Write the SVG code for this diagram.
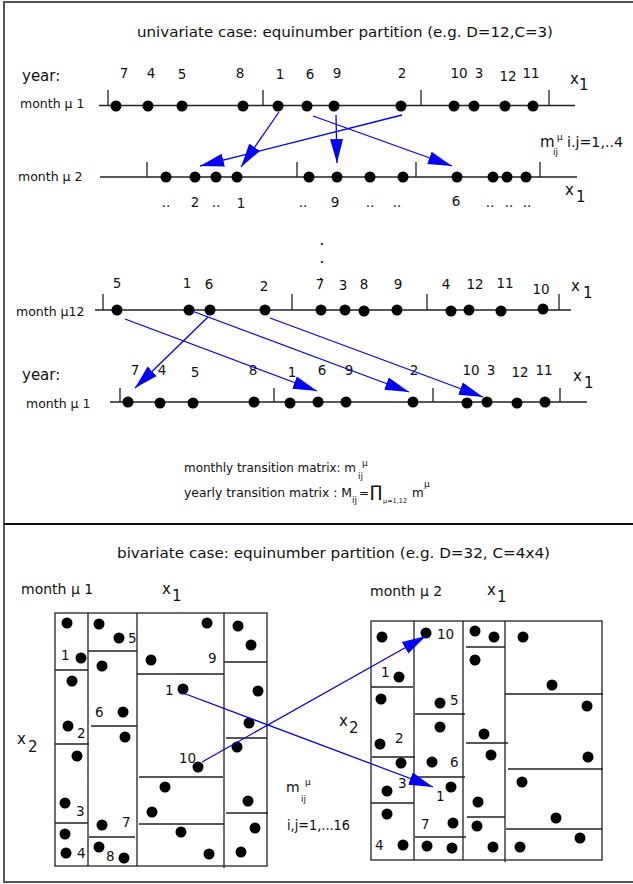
<svg xmlns="http://www.w3.org/2000/svg" width="633" height="884" viewBox="0 0 633 884">
<defs>
<marker id="ah" markerUnits="userSpaceOnUse" markerWidth="25" markerHeight="14" refX="24" refY="7" orient="auto"><path d="M0,0.5 L24,7 L0,13.5 z" fill="#0000ff"/></marker>
</defs>
<style>
text{font-family:"DejaVu Sans","Liberation Sans",sans-serif;fill:#111}
.t{font-size:13.5px}
.n{font-size:13.5px;text-anchor:middle}
.lbl{font-size:12.5px}
.yr{font-size:15px}
.x{font-size:15px}
.s{font-size:9px}
.f{font-size:12px}
.ax{stroke:#222;stroke-width:1.3;fill:none}
.g{stroke:#222;stroke-width:1.3;fill:none}
circle{fill:#000}
.ar{stroke:#0000ff;stroke-width:1.3;fill:none;marker-end:url(#ah)}
</style>
<rect x="0" y="0" width="633" height="884" fill="#fff"/>
<rect x="4" y="2" width="640" height="880" fill="none" stroke="#555" stroke-width="2"/>
<line x1="4" y1="524" x2="633" y2="524" stroke="#111" stroke-width="2"/>

<g id="univariate-title">
<text class="t" x="137" y="37" textLength="416" lengthAdjust="spacingAndGlyphs">univariate case: equinumber partition (e.g. D=12,C=3)</text>
</g>

<g id="row1-month1">
<text class="yr" x="22" y="81">year:</text>
<text class="lbl" x="20" y="108">month μ 1</text>
<path class="ax" d="M99,105.5 H575 M108,90 V105.5 M263,90 V105.5 M421,90 V105.5 M549,90 V105.5"/>
<circle cx="116" cy="106" r="5.5"/><circle cx="148" cy="106" r="5.5"/><circle cx="182" cy="106" r="5.5"/><circle cx="243" cy="106" r="5.5"/><circle cx="278" cy="106" r="5.5"/><circle cx="307" cy="106" r="5.5"/><circle cx="334" cy="106" r="5.5"/><circle cx="401" cy="106" r="5.5"/><circle cx="454" cy="106" r="5.5"/><circle cx="474" cy="106" r="5.5"/><circle cx="505" cy="106" r="5.5"/><circle cx="533" cy="106" r="5.5"/>
<text class="n" x="124" y="78">7</text><text class="n" x="151" y="78">4</text><text class="n" x="182" y="79">5</text><text class="n" x="240" y="78">8</text><text class="n" x="280" y="79">1</text><text class="n" x="310" y="79">6</text><text class="n" x="337" y="78">9</text><text class="n" x="402" y="78">2</text><text class="n" x="459" y="78">10</text><text class="n" x="479" y="78">3</text><text class="n" x="508" y="81">12</text><text class="n" x="531" y="78">11</text>
<text class="x" x="570" y="84">x</text><text class="x" x="579" y="90">1</text>
</g>

<g id="row2-month2">
<text class="lbl" x="18" y="181">month μ 2</text>
<path class="ax" d="M100,177 H577 M147,162 V177 M297,162 V177 M416,162 V177 M540,162 V177"/>
<circle cx="166" cy="177" r="5.5"/><circle cx="195" cy="177" r="5.5"/><circle cx="216" cy="177" r="5.5"/><circle cx="237" cy="177" r="5.5"/><circle cx="309" cy="177" r="5.5"/><circle cx="337" cy="177" r="5.5"/><circle cx="370" cy="177" r="5.5"/><circle cx="403" cy="177" r="5.5"/><circle cx="457" cy="177" r="5.5"/><circle cx="493" cy="177" r="5.5"/><circle cx="507" cy="177" r="5.5"/><circle cx="526" cy="177" r="5.5"/>
<text class="n" x="166" y="207">..</text><text class="n" x="195" y="207">2</text><text class="n" x="216" y="207">..</text><text class="n" x="241" y="208">1</text><text class="n" x="303" y="207">..</text><text class="n" x="335" y="207">9</text><text class="n" x="370" y="207">..</text><text class="n" x="397" y="207">..</text><text class="n" x="456" y="206">6</text><text class="n" x="490" y="207">..</text><text class="n" x="509" y="207">..</text><text class="n" x="527" y="207">..</text>
<text class="x" x="565" y="195">x</text><text class="x" x="576" y="202">1</text>
<text class="x" x="540" y="147">m</text><text class="s" x="553" y="155">ij</text><text class="s" x="557" y="140">μ</text><text class="t" x="567" y="147" textLength="56" lengthAdjust="spacingAndGlyphs">i.j=1,..4</text>
</g>

<g id="vdots">
<circle cx="322" cy="244" r="1.1"/><circle cx="322" cy="262" r="1.1"/><circle cx="321" cy="279" r="1.1"/>
</g>

<g id="row3-month12">
<text class="lbl" x="16" y="316">month μ12</text>
<path class="ax" d="M95,310 H571 M103,294 V310 M292,294 V310 M427,294 V310 M559,294 V310"/>
<circle cx="117" cy="310" r="5.5"/><circle cx="189" cy="310" r="5.5"/><circle cx="210" cy="310" r="5.5"/><circle cx="265" cy="310" r="5.5"/><circle cx="321" cy="310" r="5.5"/><circle cx="345" cy="310" r="5.5"/><circle cx="364" cy="311" r="5.5"/><circle cx="397" cy="310" r="5.5"/><circle cx="451" cy="311" r="5.5"/><circle cx="469" cy="310" r="5.5"/><circle cx="501" cy="311" r="5.5"/><circle cx="543" cy="309" r="5.5"/>
<text class="n" x="117" y="288">5</text><text class="n" x="187" y="288">1</text><text class="n" x="209" y="289">6</text><text class="n" x="264" y="291">2</text><text class="n" x="320" y="289">7</text><text class="n" x="343" y="290">3</text><text class="n" x="364" y="289">8</text><text class="n" x="398" y="289">9</text><text class="n" x="446" y="289">4</text><text class="n" x="475" y="289">12</text><text class="n" x="505" y="288">11</text><text class="n" x="541" y="294">10</text>
<text class="x" x="571" y="291">x</text><text class="x" x="583" y="298">1</text>
</g>

<g id="row4-year-month1">
<text class="yr" x="22" y="380">year:</text>
<text class="lbl" x="26" y="408">month μ 1</text>
<path class="ax" d="M110,402 H587 M120,388 V402 M274,388 V402 M433,388 V402 M560,388 V402"/>
<circle cx="128" cy="402" r="5.5"/><circle cx="160" cy="403" r="5.5"/><circle cx="193" cy="403" r="5.5"/><circle cx="254" cy="402" r="5.5"/><circle cx="290" cy="403" r="5.5"/><circle cx="318" cy="402" r="5.5"/><circle cx="346" cy="402" r="5.5"/><circle cx="413" cy="402" r="5.5"/><circle cx="467" cy="403" r="5.5"/><circle cx="487" cy="402" r="5.5"/><circle cx="517" cy="403" r="5.5"/><circle cx="545" cy="402" r="5.5"/>
<text class="n" x="135" y="375">7</text><text class="n" x="162" y="375">4</text><text class="n" x="195" y="377">5</text><text class="n" x="253" y="375">8</text><text class="n" x="292" y="377">1</text><text class="n" x="322" y="375">6</text><text class="n" x="349" y="375">9</text><text class="n" x="414" y="375">2</text><text class="n" x="471" y="375">10</text><text class="n" x="491" y="375">3</text><text class="n" x="520" y="377">12</text><text class="n" x="544" y="375">11</text>
<text class="x" x="573" y="381">x</text><text class="x" x="584" y="388">1</text>
</g>

<g id="formulas">
<text class="f" x="184" y="472" textLength="172" lengthAdjust="spacingAndGlyphs">monthly transition matrix: m</text><text class="s" x="358" y="479">ij</text><text class="s" x="362" y="466">μ</text>
<text class="f" x="184" y="497" textLength="168" lengthAdjust="spacingAndGlyphs">yearly transition matrix : M</text><text class="s" x="352" y="503">ij</text><text class="f" x="359" y="497">=</text><text x="370" y="497" style="font-size:16px">∏</text><text x="383" y="503" style="font-size:6.5px">μ=1,12</text><text class="f" x="412" y="497">m</text><text class="s" x="424" y="487">μ</text>
</g>

<g id="bivariate-title">
<text class="t" x="117" y="558" textLength="433" lengthAdjust="spacingAndGlyphs">bivariate case: equinumber partition (e.g. D=32, C=4x4)</text>
</g>

<g id="grid-month1">
<text class="yr" x="21" y="594" style="font-size:14px">month μ 1</text>
<text class="x" x="162" y="594">x</text><text class="x" x="172" y="601">1</text>
<text class="x" x="17" y="744">x</text><text class="x" x="28" y="752">2</text>
<rect class="g" x="55" y="613" width="212" height="253"/>
<path class="g" d="M88,613 V866 M137,613 V866 M224,613 V868 M55,670 H88 M55,744 H89 M55,823 H88 M88,651 H137 M91,726 H137 M89,837 H135 M137,674 H224 M139,777 H223 M139,824 H224 M224,662 H267 M226,738 H267 M226,813 H268"/>
<circle cx="67" cy="623" r="5.5"/><circle cx="81" cy="658" r="5.5"/><circle cx="72" cy="681" r="5.5"/><circle cx="68" cy="726" r="5.5"/><circle cx="77" cy="756" r="5.5"/><circle cx="65" cy="803" r="5.5"/><circle cx="65" cy="834" r="5.5"/><circle cx="66" cy="853" r="5.5"/>
<circle cx="99" cy="624" r="5.5"/><circle cx="119" cy="638" r="5.5"/><circle cx="102" cy="666" r="5.5"/><circle cx="123" cy="712" r="5.5"/><circle cx="125" cy="737" r="5.5"/><circle cx="102" cy="825" r="5.5"/><circle cx="99" cy="847" r="5.5"/><circle cx="124" cy="858" r="5.5"/>
<circle cx="207" cy="623" r="5.5"/><circle cx="151" cy="660" r="5.5"/><circle cx="183" cy="689" r="5.5"/><circle cx="198" cy="767" r="5.5"/><circle cx="165" cy="787" r="5.5"/><circle cx="152" cy="812" r="5.5"/><circle cx="181" cy="832" r="5.5"/><circle cx="209" cy="854" r="5.5"/>
<circle cx="238" cy="626" r="5.5"/><circle cx="251" cy="645" r="5.5"/><circle cx="258" cy="691" r="5.5"/><circle cx="249" cy="723" r="5.5"/><circle cx="237" cy="747" r="5.5"/><circle cx="248" cy="801" r="5.5"/><circle cx="255" cy="828" r="5.5"/><circle cx="241" cy="852" r="5.5"/>
<text class="t" x="61" y="660">1</text><text class="t" x="128" y="643">5</text><text class="t" x="208" y="663">9</text><text class="t" x="165" y="695">1</text><text class="t" x="95" y="717">6</text><text class="t" x="77" y="738">2</text><text class="t" x="179" y="763">10</text><text class="t" x="76" y="816">3</text><text class="t" x="122" y="827">7</text><text class="t" x="77" y="858">4</text><text class="t" x="106" y="861">8</text>
<text class="x" x="286" y="792" style="font-size:14px">m</text><text class="s" x="301" y="802">ij</text><text class="s" x="305" y="785">μ</text>
<text class="t" x="287" y="830" textLength="63" lengthAdjust="spacingAndGlyphs">i,j=1,...16</text>
</g>

<g id="grid-month2">
<text class="yr" x="370" y="596" style="font-size:14px">month μ 2</text>
<text class="x" x="487" y="595">x</text><text class="x" x="497" y="602">1</text>
<text class="x" x="339" y="726">x</text><text class="x" x="349" y="733">2</text>
<rect class="g" x="371" y="621" width="231" height="239"/>
<path class="g" d="M414,621 V860 M463,621 V860 M505,621 V862 M371,687 H413 M372,757 H415 M371,803 H414 M415,714 H465 M414,777 H465 M415,837 H466 M466,647 H505 M466,743 H508 M467,817 H505 M505,694 H603 M508,769 H603 M506,829 H602"/>
<circle cx="382" cy="637" r="5.5"/><circle cx="399" cy="677" r="5.5"/><circle cx="381" cy="699" r="5.5"/><circle cx="380" cy="744" r="5.5"/><circle cx="401" cy="763" r="5.5"/><circle cx="387" cy="791" r="5.5"/><circle cx="387" cy="814" r="5.5"/><circle cx="403" cy="845" r="5.5"/>
<circle cx="426" cy="633" r="5.5"/><circle cx="440" cy="703" r="5.5"/><circle cx="440" cy="727" r="5.5"/><circle cx="432" cy="762" r="5.5"/><circle cx="451" cy="787" r="5.5"/><circle cx="453" cy="823" r="5.5"/><circle cx="427" cy="846" r="5.5"/><circle cx="452" cy="848" r="5.5"/>
<circle cx="475" cy="631" r="5.5"/><circle cx="494" cy="637" r="5.5"/><circle cx="475" cy="660" r="5.5"/><circle cx="484" cy="734" r="5.5"/><circle cx="491" cy="755" r="5.5"/><circle cx="478" cy="802" r="5.5"/><circle cx="477" cy="826" r="5.5"/><circle cx="493" cy="847" r="5.5"/>
<circle cx="523" cy="637" r="5.5"/><circle cx="552" cy="685" r="5.5"/><circle cx="587" cy="706" r="5.5"/><circle cx="588" cy="757" r="5.5"/><circle cx="522" cy="782" r="5.5"/><circle cx="556" cy="818" r="5.5"/><circle cx="580" cy="838" r="5.5"/><circle cx="520" cy="847" r="5.5"/>
<text class="t" x="437" y="639">10</text><text class="t" x="381" y="677">1</text><text class="t" x="450" y="705">5</text><text class="t" x="395" y="743">2</text><text class="t" x="450" y="767">6</text><text class="t" x="398" y="788">3</text><text class="t" x="436" y="801">1</text><text class="t" x="421" y="829">7</text><text class="t" x="375" y="850">4</text>
</g>

<g id="connectors">
<line class="ar" x1="279" y1="112" x2="241" y2="167"/>
<line class="ar" x1="402" y1="115" x2="200" y2="166"/>
<line class="ar" x1="336" y1="115" x2="337" y2="163"/>
<line class="ar" x1="313" y1="116" x2="452" y2="166"/>
<line class="ar" x1="125" y1="319" x2="317" y2="391"/>
<line class="ar" x1="208" y1="317" x2="135" y2="388"/>
<line class="ar" x1="192" y1="311" x2="409" y2="392"/>
<line class="ar" x1="270" y1="318" x2="483" y2="397"/>
<line class="ar" x1="183" y1="693" x2="433" y2="787"/>
<line class="ar" x1="202" y1="762" x2="426" y2="636"/>
</g>
</svg>
